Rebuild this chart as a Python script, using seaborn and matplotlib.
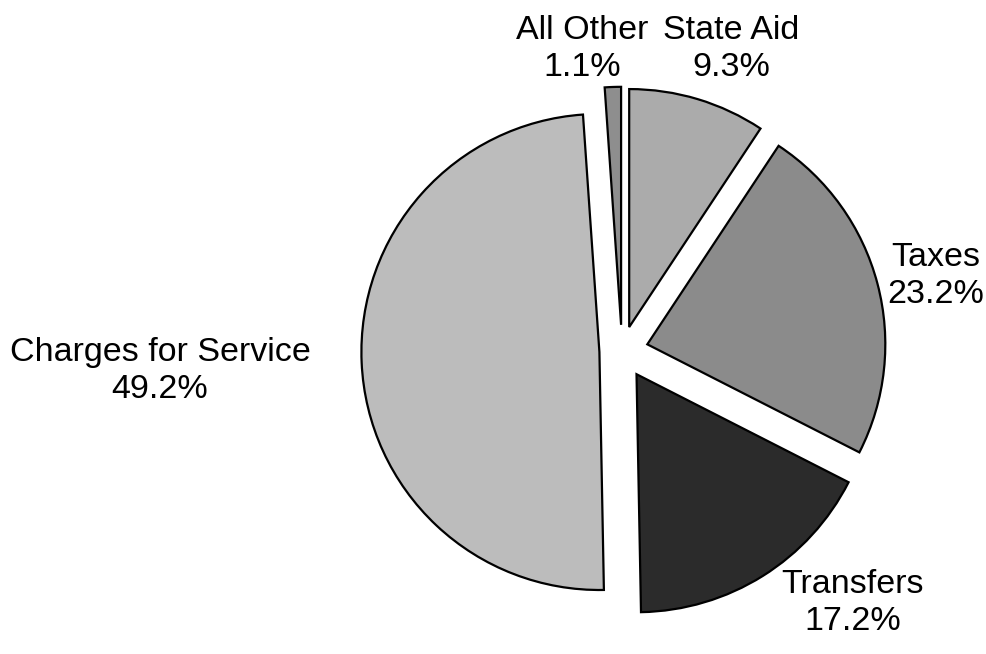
import matplotlib
matplotlib.use("Agg")
import matplotlib.pyplot as plt
import seaborn as sns

# ---- data ----
categories = ["State Aid", "Taxes", "Transfers", "Charges for Service", "All Other"]
values = [9.3, 23.2, 17.2, 49.2, 1.1]
pct_labels = ["9.3%", "23.2%", "17.2%", "49.2%", "1.1%"]

# ---- style ----
colors = ["#ababab", "#8b8b8b", "#2b2b2b", "#bcbcbc", "#8e8e8e"]
explode_frac = [0.105, 0.11, 0.115, 0.095, 0.11]

sns.set_theme(style="white")
plt.rcParams["font.family"] = ["Liberation Sans", "DejaVu Sans"]

W, H = 987, 654
fig = plt.figure(figsize=(W / 100, H / 100), dpi=100)
ax = fig.add_axes([0, 0, 1, 1])

cx, cy, r = 622, H - 351, 238
ax.pie(values, colors=colors, explode=[e * r for e in explode_frac],
       startangle=90, counterclock=False,
       center=(cx, cy), radius=r,
       wedgeprops=dict(edgecolor="black", linewidth=1.6))

ax.set_xlim(0, W)
ax.set_ylim(0, H)
ax.set_aspect("auto")
ax.axis("off")

# label layout (pixel positions, y from top)
label_pos = [(731, 49), (936, 276), (853, 603), (160, 371), (582, 49)]
for name, pct, (lx, ly) in zip(categories, pct_labels, label_pos):
    ax.text(lx, H - ly, f"{name}\n{pct}", ha="center", va="center",
            fontsize=24.5, color="black", linespacing=1.22)

fig.savefig("out.png", dpi=100, facecolor="white")
